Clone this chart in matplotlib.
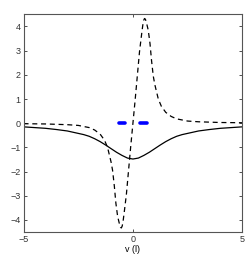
import matplotlib
matplotlib.use("Agg")
import matplotlib.pyplot as plt

# Solid curve
v_solid = [-5, -4.5, -4, -3.5, -3, -2.5, -2.25, -2, -1.75, -1.5, -1.25, -1, -0.75, -0.5, -0.25, 0,
           0.25, 0.5, 0.75, 1, 1.25, 1.5, 1.75, 2, 2.25, 2.5, 3, 3.5, 4, 4.5, 5]
y_solid = [-0.15, -0.18, -0.21, -0.26, -0.32, -0.42, -0.47, -0.54, -0.64, -0.76, -0.9, -1.05, -1.2, -1.33, -1.44, -1.48,
           -1.44, -1.33, -1.2, -1.05, -0.9, -0.76, -0.64, -0.54, -0.47, -0.42, -0.32, -0.26, -0.21, -0.18, -0.15]

# Dashed curve
v_dash = [-5, -4, -3, -2.5, -2, -1.75, -1.5, -1.3, -1.16, -1.0, -0.93, -0.85, -0.78, -0.7,
          -0.62, -0.57, -0.53, -0.49, -0.45, -0.4, -0.3, -0.2, -0.1, 0,
          0.1, 0.2, 0.3, 0.4, 0.45, 0.49, 0.53, 0.57, 0.62, 0.7,
          0.78, 0.85, 0.93, 1.0, 1.16, 1.3, 1.5, 1.75, 2, 2.5, 3, 4, 5]
y_dash = [-0.02, -0.03, -0.06, -0.09, -0.18, -0.28, -0.45, -0.7, -1.0, -1.6, -1.95, -2.6, -3.3, -3.85,
          -4.15, -4.3, -4.33, -4.25, -4.05, -3.7, -2.95, -1.95, -0.95, 0,
          0.95, 1.95, 2.95, 3.7, 4.05, 4.25, 4.33, 4.3, 4.15, 3.85,
          3.3, 2.6, 1.95, 1.6, 1.0, 0.7, 0.45, 0.28, 0.18, 0.09, 0.06, 0.03, 0.02]

# Blue segments on the zero line
seg_left_v = [-0.65, -0.34]
seg_right_v = [0.31, 0.64]
seg_y = [0, 0]

x_ticks = [-5, 0, 5]
y_ticks = [-4, -3, -2, -1, 0, 1, 2, 3, 4]

plt.rcParams['font.family'] = ['Liberation Sans', 'DejaVu Sans']

fig = plt.figure(figsize=(2.48, 2.57), dpi=100)
ax = fig.add_axes([0.095, 0.097, 0.882, 0.847])

ax.plot(v_solid, y_solid, color='black', lw=0.9)
ax.plot(v_dash, y_dash, color='black', lw=0.9, linestyle=(0, (4, 3)))
for sv in (seg_left_v, seg_right_v):
    ax.plot(sv, seg_y, color='#0000ff', lw=2.6, solid_capstyle='round')

ax.set_xlim(-5, 5)
ax.set_ylim(-4.5, 4.5)
ax.set_xticks(x_ticks)
ax.set_yticks(y_ticks)
ax.tick_params(direction='in', length=2.5, width=0.6, labelsize=6.5,
               top=True, right=True, pad=2, colors='#333333')
for s in ax.spines.values():
    s.set_linewidth(0.8)
    s.set_color('#555555')
ax.set_xlabel('v (l)', fontsize=6.5, labelpad=0.5)

fig.savefig('out.png', dpi=100)
